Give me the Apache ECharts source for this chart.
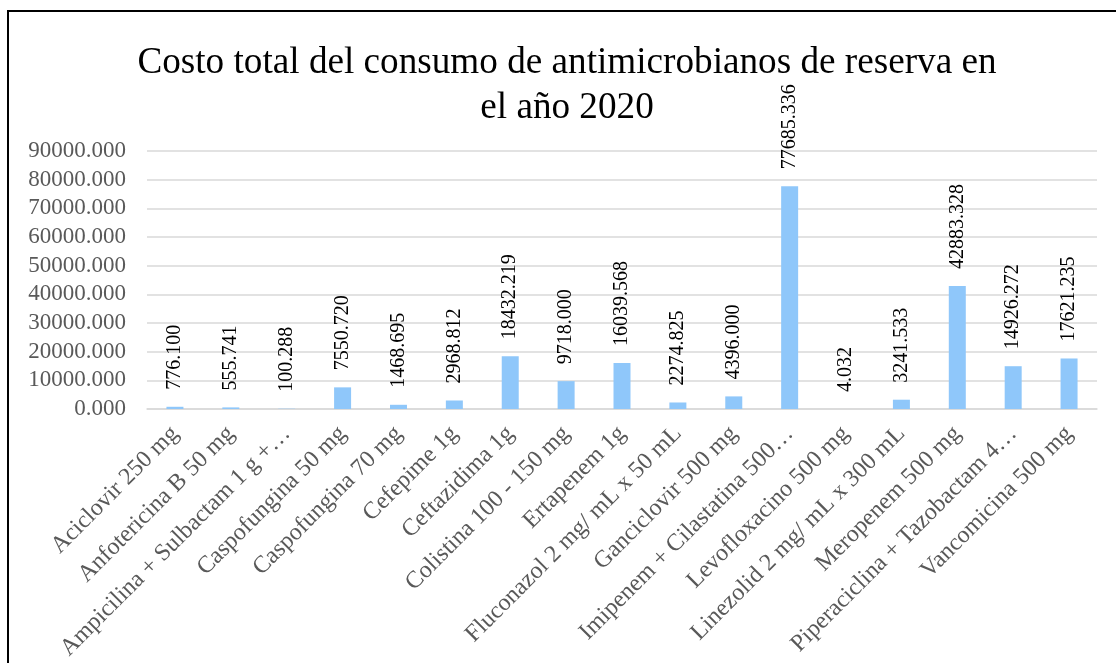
<!DOCTYPE html>
<html><head><meta charset="utf-8">
<script src="https://cdn.jsdelivr.net/npm/echarts@6/dist/echarts.min.js"></script>
<style>
html,body{margin:0;padding:0;background:#fff;}
#frame{position:absolute;left:7px;top:10px;width:1120px;height:670px;border:2px solid #000;box-sizing:border-box;}
#c{position:absolute;left:0;top:0;width:1116px;height:663px;}
</style></head>
<body>
<div id="frame"></div>
<div id="c"></div>
<script>
const categories = ["Aciclovir 250 mg","Anfotericina B 50 mg","Ampicilina + Sulbactam 1 g +…","Caspofungina 50 mg","Caspofungina 70 mg","Cefepime 1g","Ceftazidima 1g","Colistina 100 - 150 mg","Ertapenem 1g","Fluconazol 2 mg/ mL x 50 mL","Ganciclovir 500 mg","Imipenem + Cilastatina 500…","Levofloxacino 500 mg","Linezolid 2 mg/ mL x 300 mL","Meropenem 500 mg","Piperaciclina + Tazobactam 4…","Vancomicina 500 mg"];
const values = [776.100,555.741,100.288,7550.720,1468.695,2968.812,18432.219,9718.000,16039.568,2274.825,4396.000,77685.336,4.032,3241.533,42883.328,14926.272,17621.235];
const titleText = "Costo total del consumo de antimicrobianos de reserva en\nel año 2020";
const serif = "'Liberation Serif','Times New Roman',serif";
const chart = echarts.init(document.getElementById('c'));
chart.setOption({
  animation:false,
  title:{text:titleText,left:562,top:36,textAlign:'center',
    textStyle:{fontFamily:serif,fontSize:37.2,fontWeight:'normal',color:'#000',lineHeight:45}},
  grid:{left:147,right:19,top:151,bottom:254,containLabel:false},
  xAxis:{type:'category',data:categories,
    axisLine:{lineStyle:{color:'#d9d9d9',width:1.5}},axisTick:{show:false},
    axisLabel:{rotate:45,interval:0,margin:21,color:'#595959',fontFamily:serif,fontSize:24}},
  yAxis:{type:'value',min:0,max:90000,interval:10000,
    axisLine:{show:false},axisTick:{show:false},
    splitLine:{lineStyle:{color:'#d9d9d9',width:1.5}},
    axisLabel:{color:'#595959',fontFamily:serif,fontSize:23,margin:21,
      formatter:v=>v.toFixed(3)}},
  series:[{type:'bar',data:values,barWidth:17,itemStyle:{color:'#8fc7fa'},
    label:{show:true,position:'top',rotate:90,align:'left',verticalAlign:'middle',distance:17,
      color:'#000',fontFamily:serif,fontSize:20,formatter:p=>p.value.toFixed(3)}}]
});
</script>
</body></html>
